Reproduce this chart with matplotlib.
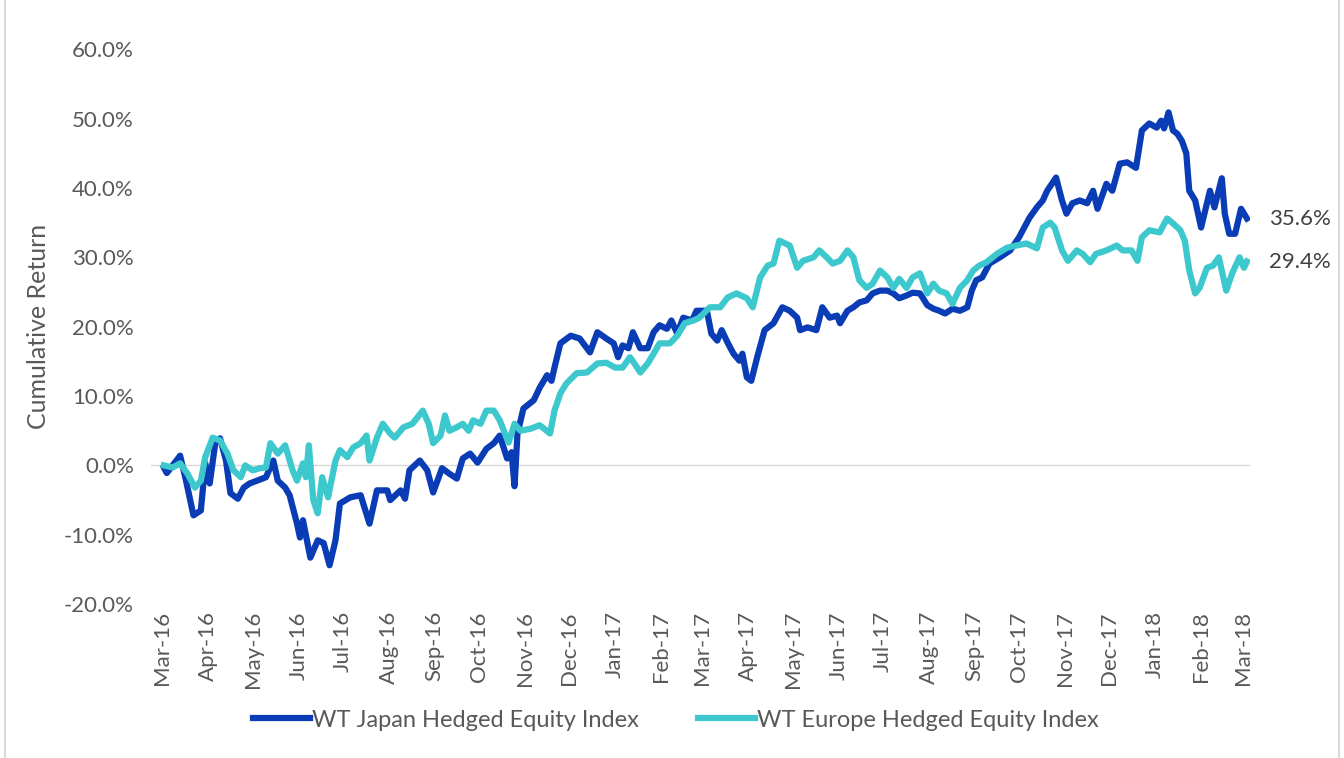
import matplotlib.pyplot as plt
import matplotlib.dates as mdates
import pandas as pd

plt.rcParams['font.family'] = ['Lato', 'DejaVu Sans']

start = pd.Timestamp('2016-03-01')

# days since 1 Mar 2016, cumulative return in %
japan_days = [1, 3, 12, 16, 21, 26, 29, 32, 36, 39, 43, 46, 51, 55, 59, 64, 70, 75, 78, 83,
              86, 91, 93, 95, 100, 105, 109, 113, 117, 120, 127, 134, 140, 145, 152, 154, 161, 164, 167, 174,
              179, 183, 189, 194, 199, 203, 208, 213, 219, 224, 228, 233, 236, 238, 240, 244, 251, 255, 260, 263,
              265, 269, 276, 282, 289, 294, 300, 305, 308, 311, 315, 318, 323, 328, 332, 336, 341, 344, 348, 352,
              358, 361, 368, 371, 375, 378, 382, 386, 390, 392, 395, 398, 402, 407, 413, 419, 424, 429, 431, 436,
              442, 446, 451, 456, 458, 463, 467, 471, 476, 480, 485, 490, 494, 498, 503, 507, 512, 517, 521, 525,
              529, 534, 539, 544, 547, 550, 554, 559, 566, 573, 579, 586, 591, 595, 598, 604, 608, 611, 615, 620,
              625, 629, 632, 638, 642, 647, 652, 658, 662, 667, 672, 675, 677, 680, 683, 686, 689, 692, 694, 698,
              702, 708, 711, 716, 718, 721, 725, 729, 733]
japan_ret = [-0.3, -1.1, 1.4, -2.2, -7.2, -6.5, 0.3, -2.6, 3.6, 3.9, 0.7, -4.0, -4.8, -3.2, -2.6, -2.2, -1.7, 0.7, -2.2, -3.2,
             -4.3, -8.4, -10.4, -7.9, -13.3, -10.8, -11.2, -14.4, -10.8, -5.5, -4.6, -4.3, -8.4, -3.6, -3.6, -5.0, -3.6, -4.8, -0.7, 0.7,
             -0.7, -3.9, -0.4, -1.2, -1.9, 1.0, 1.7, 0.4, 2.4, 3.2, 4.3, 1.0, 1.9, -3.0, 4.6, 8.2, 9.4, 11.2, 13.0, 12.2,
             14.1, 17.6, 18.7, 18.3, 16.3, 19.2, 18.3, 17.6, 15.6, 17.3, 16.9, 19.2, 16.9, 16.9, 19.2, 20.2, 19.7, 20.9, 19.0, 21.3,
             20.9, 22.3, 22.3, 19.0, 18.0, 19.5, 17.7, 16.1, 15.1, 16.1, 12.7, 12.2, 15.6, 19.5, 20.5, 22.8, 22.3, 21.3, 19.5, 19.9,
             19.5, 22.8, 21.3, 21.6, 20.5, 22.3, 22.8, 23.5, 23.8, 24.8, 25.2, 25.2, 24.8, 24.1, 24.5, 24.9, 24.8, 23.1, 22.6, 22.3,
             21.9, 22.6, 22.3, 22.8, 25.2, 26.7, 27.1, 29.1, 30.0, 31.0, 32.9, 35.7, 37.2, 38.2, 39.6, 41.5, 38.2, 36.3, 37.8, 38.2,
             37.8, 39.6, 37.0, 40.6, 39.6, 43.5, 43.7, 42.9, 48.3, 49.3, 48.7, 49.7, 48.6, 50.9, 48.3, 47.8, 46.8, 45.0, 39.6, 38.2,
             34.3, 39.6, 37.2, 41.4, 36.3, 33.4, 33.4, 37.0, 35.6]

europe_days = [1, 7, 12, 17, 22, 26, 29, 34, 39, 44, 48, 53, 56, 61, 66, 70, 73, 78, 83, 88,
               91, 95, 97, 99, 102, 105, 108, 112, 117, 120, 125, 129, 134, 138, 140, 145, 149, 154, 157, 163,
               169, 176, 180, 183, 188, 191, 194, 199, 203, 207, 210, 215, 219, 224, 228, 234, 238, 242, 249, 255,
               262, 265, 269, 273, 280, 287, 294, 300, 306, 311, 316, 319, 323, 328, 332, 336, 343, 348, 353, 359,
               363, 370, 377, 382, 388, 395, 399, 404, 409, 413, 417, 424, 429, 433, 440, 444, 449, 453, 458, 463,
               467, 471, 476, 480, 485, 490, 494, 498, 503, 507, 512, 517, 521, 525, 530, 534, 539, 544, 548, 552,
               557, 564, 571, 577, 584, 591, 595, 600, 603, 608, 612, 618, 622, 627, 631, 638, 645, 649, 655, 659,
               662, 667, 674, 679, 683, 688, 691, 694, 698, 701, 706, 710, 714, 719, 723, 728, 731, 733]
europe_ret = [0.0, -0.3, 0.3, -1.2, -3.2, -2.2, 1.2, 4.0, 3.6, 1.7, -0.7, -1.7, 0.0, -0.7, -0.4, -0.3, 3.2, 1.7, 2.9, -0.7,
              -2.2, 0.3, -1.7, 2.9, -5.0, -6.9, -1.7, -4.6, 0.7, 2.2, 1.2, 2.6, 3.2, 4.3, 0.7, 4.0, 6.0, 4.6, 4.0, 5.5,
              6.0, 7.9, 6.0, 3.2, 4.3, 7.2, 5.0, 5.5, 6.0, 5.0, 6.5, 6.0, 7.9, 7.9, 6.5, 3.3, 6.0, 5.0, 5.3, 5.8,
              4.6, 7.9, 10.4, 11.8, 13.3, 13.4, 14.7, 14.8, 14.1, 14.1, 15.6, 14.7, 13.4, 14.7, 16.1, 17.6, 17.6, 18.7, 20.5, 20.9,
              21.3, 22.8, 22.8, 24.2, 24.8, 24.1, 22.8, 27.1, 28.8, 29.1, 32.4, 31.7, 28.5, 29.5, 30.0, 31.0, 30.0, 29.1, 29.5, 31.0,
              30.0, 26.7, 25.6, 26.2, 28.1, 27.1, 25.6, 26.9, 25.6, 27.1, 27.7, 24.8, 26.2, 25.2, 24.8, 23.3, 25.6, 26.7, 28.1, 28.8,
              29.3, 30.5, 31.4, 31.7, 32.0, 31.3, 34.3, 35.0, 34.3, 31.0, 29.5, 31.0, 30.5, 29.3, 30.5, 31.0, 31.7, 31.0, 31.0, 29.5,
              32.9, 33.9, 33.6, 35.6, 34.9, 33.9, 32.4, 28.1, 24.8, 25.6, 28.5, 28.8, 30.0, 25.2, 27.7, 30.0, 28.5, 29.4]

series_names = ['WT Japan Hedged Equity Index', 'WT Europe Hedged Equity Index']
colors = ['#0a3cb6', '#3cc8cc']
end_labels = ['35.6%', '29.4%']

japan_dates = start + pd.to_timedelta(japan_days, unit='D')
europe_dates = start + pd.to_timedelta(europe_days, unit='D')

fig = plt.figure(figsize=(13.44, 7.58), dpi=100)
ax = fig.add_axes([0.112, 0.203, 0.818, 0.732])

ax.plot(japan_dates, japan_ret, color=colors[0], lw=4.5, label=series_names[0], solid_joinstyle='round')
ax.plot(europe_dates, europe_ret, color=colors[1], lw=4.5, label=series_names[1], solid_joinstyle='round')
ax.axhline(0, color='#d9d9d9', lw=1, zorder=0)

ax.text(japan_dates[-1] + pd.Timedelta(days=15), japan_ret[-1], end_labels[0],
        color='#404040', fontsize=16, va='center', ha='left')
ax.text(europe_dates[-1] + pd.Timedelta(days=15), europe_ret[-1], end_labels[1],
        color='#404040', fontsize=16, va='center', ha='left')

ax.set_ylim(-20, 60)
ax.set_yticks(range(-20, 61, 10))
ax.set_yticklabels([f'{v:.1f}%' for v in range(-20, 61, 10)])
ax.set_xlim(start - pd.Timedelta(days=8), start + pd.Timedelta(days=735))
ax.xaxis.set_major_locator(mdates.MonthLocator())
ax.xaxis.set_major_formatter(mdates.DateFormatter('%b-%y'))
plt.setp(ax.get_xticklabels(), rotation=90)

ax.tick_params(length=0, labelsize=16, labelcolor='#595959')
ax.tick_params(axis='y', pad=12)
ax.tick_params(axis='x', pad=5)
for s in ax.spines.values():
    s.set_visible(False)

ax.set_ylabel('Cumulative Return', fontsize=18, color='#595959', labelpad=10)

fig.legend(loc='center', bbox_to_anchor=(0.503, 0.05), ncol=2, frameon=False,
           fontsize=17, handlelength=2.4, handletextpad=0.1, columnspacing=2.5,
           labelcolor='#595959')

# light frame lines at the sides
fig.add_artist(plt.Line2D([0.004, 0.004], [0, 1], color='#d9d9d9', lw=1.5))
fig.add_artist(plt.Line2D([0.996, 0.996], [0, 1], color='#d9d9d9', lw=1.5))

fig.savefig('out.png', dpi=100)
